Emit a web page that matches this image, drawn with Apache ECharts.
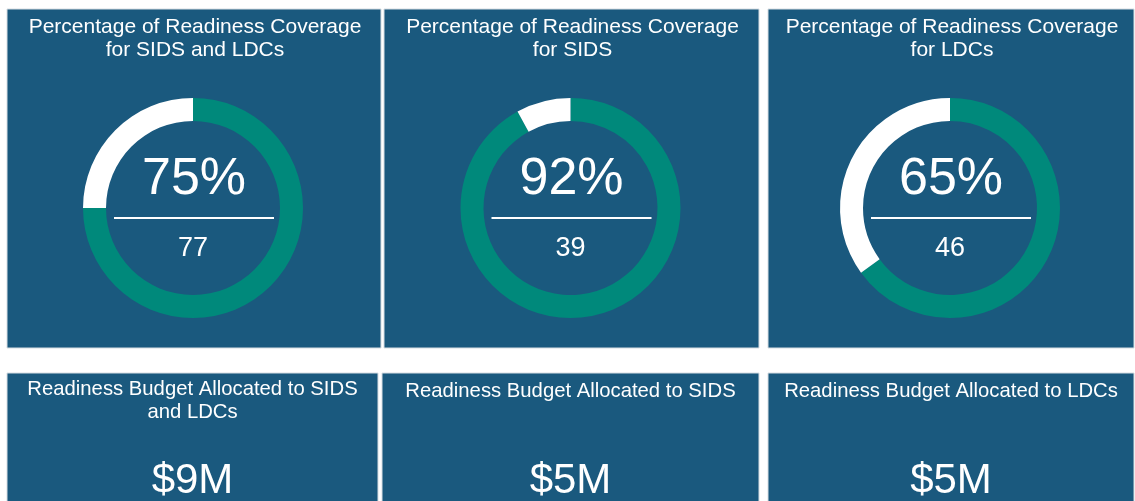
<!DOCTYPE html>
<html>
<head>
<meta charset="utf-8">
<script src="https://cdn.jsdelivr.net/npm/echarts@6/dist/echarts.min.js"></script>
<style>
  html, body { margin: 0; padding: 0; background: #fff; }
  #main { width: 1135px; height: 501px; }
</style>
</head>
<body>
<div id="main"></div>
<script>
// readiness coverage cards
const coverageTitles = [
  'Percentage of Readiness Coverage\nfor SIDS and LDCs',
  'Percentage of Readiness Coverage\nfor SIDS',
  'Percentage of Readiness Coverage\nfor LDCs'
];
const coveragePct = [75, 92, 65];
const coverageCount = [77, 39, 46];

// budget cards
const budgetTitles = [
  'Readiness Budget Allocated to SIDS\nand LDCs',
  'Readiness Budget Allocated to SIDS',
  'Readiness Budget Allocated to LDCs'
];
const budgetValues = ['$9M', '$5M', '$5M'];

const BLUE = '#1a597e';
const TEAL = '#00897b';

// card boxes [x0, x1]
const cols = [[7, 381], [384, 759], [768, 1134]];
const botCols = [[7, 378], [382, 759], [768, 1134]];

const chart = echarts.init(document.getElementById('main'));

let graphics = [];
let series = [];

cols.forEach((c, i) => {
  const cx = (c[0] + c[1]) / 2;
  graphics.push({
    type: 'rect', z: 0,
    shape: { x: c[0], y: 9, width: c[1] - c[0], height: 339 },
    style: { fill: BLUE, stroke: '#d6dde2', lineWidth: 1 }
  });
  graphics.push({
    type: 'text', z: 10,
    x: cx + 1, y: 39,
    style: {
      text: coverageTitles[i], fill: '#fff',
      font: '21px "Liberation Sans", Arial, sans-serif',
      align: 'center', verticalAlign: 'middle', lineHeight: 23
    }
  });
  graphics.push({
    type: 'text', z: 10,
    x: cx, y: 180,
    style: {
      text: coveragePct[i] + '%', fill: '#fff',
      font: '52px "Liberation Sans", Arial, sans-serif',
      align: 'center', verticalAlign: 'middle'
    }
  });
  graphics.push({
    type: 'line', z: 10,
    shape: { x1: cx - 80, y1: 218, x2: cx + 80, y2: 218 },
    style: { stroke: '#fff', lineWidth: 2 }
  });
  graphics.push({
    type: 'text', z: 10,
    x: cx - 1, y: 249,
    style: {
      text: String(coverageCount[i]), fill: '#fff',
      font: '27px "Liberation Sans", Arial, sans-serif',
      align: 'center', verticalAlign: 'middle'
    }
  });

  series.push({
    type: 'pie',
    center: [cx - 1, 208],
    radius: [87, 110],
    startAngle: 90,
    clockwise: true,
    silent: true,
    label: { show: false },
    labelLine: { show: false },
    emphasis: { disabled: true },
    itemStyle: { borderWidth: 0 },
    data: [
      { value: coveragePct[i], itemStyle: { color: TEAL } },
      { value: 100 - coveragePct[i], itemStyle: { color: '#fff' } }
    ]
  });
});

botCols.forEach((c, i) => {
  const cx = (c[0] + c[1]) / 2;
  graphics.push({
    type: 'rect', z: 0,
    shape: { x: c[0], y: 373, width: c[1] - c[0], height: 140 },
    style: { fill: BLUE, stroke: '#d6dde2', lineWidth: 1 }
  });
  graphics.push({
    type: 'text', z: 10,
    x: cx, y: budgetTitles[i].indexOf('\n') >= 0 ? 401 : 391,
    style: {
      text: budgetTitles[i], fill: '#fff',
      font: '20.3px "Liberation Sans", Arial, sans-serif',
      align: 'center', verticalAlign: 'middle', lineHeight: 23
    }
  });
  graphics.push({
    type: 'text', z: 10,
    x: cx, y: 481,
    style: {
      text: budgetValues[i], fill: '#fff',
      font: '42px "Liberation Sans", Arial, sans-serif',
      align: 'center', verticalAlign: 'middle'
    }
  });
});

chart.setOption({
  backgroundColor: '#fff',
  animation: false,
  graphic: { elements: graphics },
  series: series
});
</script>
</body>
</html>
